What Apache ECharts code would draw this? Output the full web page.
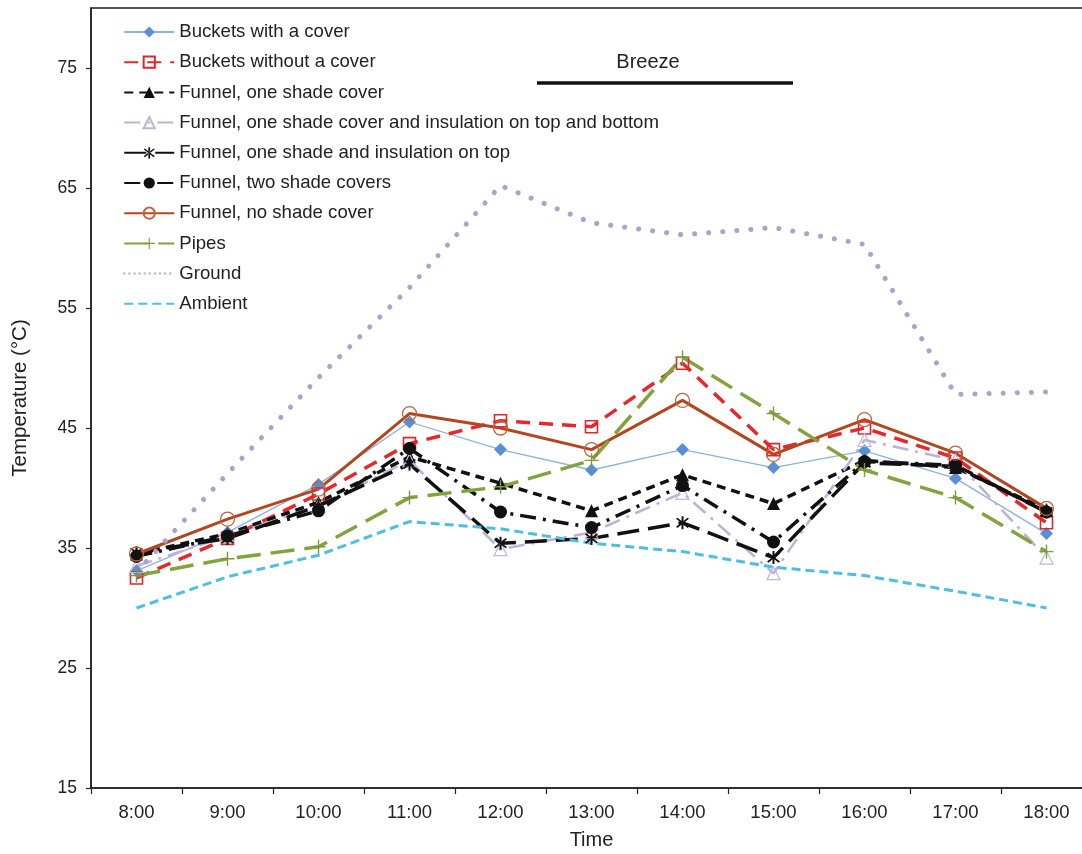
<!DOCTYPE html>
<html>
<head>
<meta charset="utf-8">
<script src="https://cdn.jsdelivr.net/npm/echarts@6/dist/echarts.min.js"></script>
<style>
html,body{margin:0;padding:0;background:#fff;}
#chart{width:1082px;height:854px;}
</style>
</head>
<body>
<div id="chart"></div>
<script>
// ---- data ----
var times = ['8:00','9:00','10:00','11:00','12:00','13:00','14:00','15:00','16:00','17:00','18:00'];
var yTicks = [15,25,35,45,55,65,75];
var bucketsCover    = [33.1, 36.3, 40.3, 45.5, 43.2, 41.5, 43.2, 41.7, 43.1, 40.8, 36.2];
var bucketsNoCover  = [32.5, 35.8, 39.5, 43.7, 45.6, 45.1, 50.4, 43.2, 45.0, 42.5, 37.1];
var funnelOneShade  = [34.5, 36.2, 38.8, 42.6, 40.4, 38.1, 41.1, 38.7, 42.3, 41.7, 38.2];
var funnelInsTopBot = [33.5, 36.0, 38.5, 42.3, 34.9, 36.3, 39.6, 32.9, 44.0, 42.3, 34.2];
var funnelInsTop    = [34.6, 35.8, 38.5, 42.0, 35.4, 35.8, 37.1, 34.2, 42.1, 41.8, 38.0];
var funnelTwoShade  = [34.3, 36.0, 38.1, 43.3, 38.0, 36.7, 40.2, 35.5, 42.2, 41.9, 38.0];
var funnelNoShade   = [34.5, 37.4, 39.9, 46.2, 45.0, 43.2, 47.3, 42.8, 45.7, 42.9, 38.3];
var pipes           = [32.7, 34.1, 35.1, 39.2, 40.1, 42.3, 50.9, 46.2, 41.5, 39.2, 34.7];
var ground          = [33.0, 41.2, 49.2, 56.7, 65.2, 62.1, 61.1, 61.7, 60.3, 47.8, 48.0];
var ambient         = [30.0, 32.6, 34.4, 37.2, 36.6, 35.4, 34.7, 33.4, 32.7, 31.4, 30.0];
var breezeLabel = 'Breeze';

var FONT = '"Liberation Sans", Arial, Helvetica, sans-serif';
var starPath = 'path://M-0.6,-5L0.6,-5L0.6,5L-0.6,5Z' +
  'M-3.08,-3.92L3.92,3.08L3.08,3.92L-3.92,-3.08Z' +
  'M-3.08,3.92L3.92,-3.08L3.08,-3.92L-3.92,3.08Z';
var plusPath = 'path://M-0.6,-6L0.6,-6L0.6,6L-0.6,6Z M-6,-0.6L6,-0.6L6,0.6L-6,0.6Z';

function S(name, data, line, sym, item) {
  return {
    name: name, type: 'line', data: data,
    lineStyle: line,
    symbol: sym.symbol || 'circle',
    symbolSize: sym.size || 1,
    showSymbol: sym.symbol ? true : false,
    itemStyle: item,
    emphasis: {disabled: true},
    z: 2
  };
}
var clear = 'rgba(255,255,255,0)';

var series = [
  S('Buckets with a cover', bucketsCover,
    {color: '#8fb1dd', width: 1.3, type: 'solid'},
    {symbol: 'diamond', size: 13},
    {color: '#5b8fd5'}),
  S('Buckets without a cover', bucketsNoCover,
    {color: '#e8262b', width: 3.5, type: [14, 9]},
    {symbol: 'rect', size: 12},
    {color: clear, borderColor: '#e0262b', borderWidth: 1.6}),
  S('Funnel, one shade cover', funnelOneShade,
    {color: '#111', width: 3.5, type: [9, 6]},
    {symbol: 'triangle', size: 13},
    {color: '#111'}),
  S('Funnel, one shade cover and insulation on top and bottom', funnelInsTopBot,
    {color: '#bcb4d8', width: 2.6, type: [16, 7, 3, 7]},
    {symbol: 'triangle', size: 13},
    {color: clear, borderColor: '#bdb6da', borderWidth: 1.2}),
  S('Funnel, one shade and insulation on top', funnelInsTop,
    {color: '#111', width: 3.5, type: [22, 9]},
    {symbol: starPath, size: 13},
    {color: '#111'}),
  S('Funnel, two shade covers', funnelTwoShade,
    {color: '#111', width: 3.5, type: [16, 7, 3, 7]},
    {symbol: 'circle', size: 13},
    {color: '#111'}),
  S('Funnel, no shade cover', funnelNoShade,
    {color: '#b4461f', width: 3, type: 'solid'},
    {symbol: 'circle', size: 14},
    {color: clear, borderColor: '#c0643e', borderWidth: 1.3}),
  S('Pipes', pipes,
    {color: '#84a23e', width: 3.5, type: [24, 10]},
    {symbol: plusPath, size: 14},
    {color: '#7d9a3a'}),
  S('Ground', ground,
    {color: '#aaa4cc', width: 5, type: [0.1, 14], cap: 'round'},
    {}, {color: clear, borderWidth: 0}),
  S('Ambient', ambient,
    {color: '#4cbfe2', width: 3, type: [9, 5]},
    {}, {color: clear, borderWidth: 0})
];

var legendData = series.map(function (s) {
  if (s.name === 'Ground') {
    return {name: s.name, lineStyle: {type: [0.1, 5], width: 2.5, cap: 'round', color: '#bcb8d6'}};
  }
  return {name: s.name};
});

var chart = echarts.init(document.getElementById('chart'), null, {renderer: 'canvas'});
chart.setOption({
  animation: false,
  backgroundColor: '#fff',
  textStyle: {fontFamily: FONT},
  grid: {left: 91, width: 1001, top: 8, bottom: 66, show: true,
         outerBoundsMode: 'none', containLabel: false,
         borderColor: '#222', borderWidth: 1.5, backgroundColor: 'transparent'},
  legend: {
    orient: 'vertical', left: 118, top: 17,
    itemWidth: 50, itemHeight: 14, itemGap: 10.2,
    textStyle: {fontFamily: FONT, fontSize: 18.6, color: '#222', lineHeight: 20},
    data: legendData,
    selectedMode: false
  },
  xAxis: {
    type: 'category', data: times, boundaryGap: true,
    name: 'Time', nameLocation: 'middle', nameGap: 42,
    nameTextStyle: {fontFamily: FONT, fontSize: 20, color: '#222'},
    axisLine: {lineStyle: {color: '#222', width: 1.5}},
    axisTick: {show: true, length: 6, alignWithLabel: false, lineStyle: {color: '#222', width: 1.2}},
    axisLabel: {fontFamily: FONT, fontSize: 18.5, color: '#222', margin: 15, interval: 0},
    splitLine: {show: false}
  },
  yAxis: {
    type: 'value', min: 15, max: 80, interval: 10,
    name: 'Temperature (°C)', nameLocation: 'middle', nameGap: 60,
    nameTextStyle: {fontFamily: FONT, fontSize: 20.5, color: '#222'},
    axisLine: {show: true, lineStyle: {color: '#222', width: 1.5}},
    axisTick: {show: true, length: 5, lineStyle: {color: '#222', width: 1.2}, customValues: yTicks},
    axisLabel: {fontFamily: FONT, fontSize: 17.5, color: '#222', margin: 14, customValues: yTicks},
    splitLine: {show: false}
  },
  graphic: [
    {type: 'line', shape: {x1: 537, y1: 83, x2: 793, y2: 83},
     style: {stroke: '#111', lineWidth: 3.5}, z: 10},
    {type: 'text', x: 648, y: 62,
     style: {text: breezeLabel, fontFamily: FONT, fontSize: 20, fill: '#222',
             align: 'center', verticalAlign: 'middle'}, z: 10}
  ],
  series: series
});
</script>
</body>
</html>
